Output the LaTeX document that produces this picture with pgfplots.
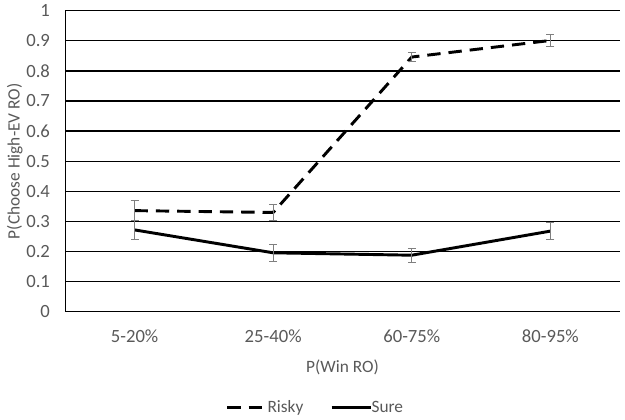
\documentclass[border=0pt]{standalone}
\usepackage{pgfplots}
\pgfplotsset{compat=1.18}
\usepackage{fontspec}
\setmainfont{Carlito}
\definecolor{txt}{HTML}{595959}
\definecolor{ebar}{HTML}{7F7F7F}
\begin{document}
\begin{tikzpicture}
\useasboundingbox (-49pt,-81pt) rectangle (420pt,234pt);
\begin{axis}[
  scale only axis,
  width=416pt, height=226pt,
  xmin=-0.5, xmax=3.5, ymin=0, ymax=1,
  xtick={0,1,2,3},
  xticklabels={5-20\%,25-40\%,60-75\%,80-95\%},
  ytick={0,0.1,...,1},
  yticklabels={0,0.1,0.2,0.3,0.4,0.5,0.6,0.7,0.8,0.9,1},
  major tick length=0pt,
  axis x line=bottom, axis y line=left,
  axis line style={-, black, line width=1pt},
  ymajorgrids, grid style={black, line width=1pt},
  tick label style={font=\fontsize{14}{16}\selectfont, text=txt},
  yticklabel style={xshift=-8pt},
  xticklabel style={yshift=-10pt},
  xlabel={P(Win RO)}, ylabel={P(Choose High-EV RO)},
  label style={font=\fontsize{13}{15}\selectfont, text=txt},
  xlabel style={yshift=-6pt},
  ylabel style={yshift=-4pt},
  legend style={at={(0.452,-0.319)}, anchor=center, draw=none, fill=none,
    legend columns=2, font=\fontsize{13}{15}\selectfont, text=txt,
    /tikz/every even column/.append style={column sep=18pt},
    /tikz/every odd column/.append style={column sep=-3pt}},
  legend image code/.code={\draw[#1] (0pt,0pt) -- (30pt,0pt);},
  clip=false,
]
\addplot[black, line width=2.2pt, dash pattern=on 10pt off 6pt,
  error bars/.cd, y dir=both, y explicit,
  error bar style={ebar, line width=0.6pt, solid},
  error mark options={ebar, mark size=3pt, line width=0.6pt, rotate=90}]
  coordinates {(0,0.336) +- (0,0.033) (1,0.330) +- (0,0.028) (2,0.846) +- (0,0.016) (3,0.901) +- (0,0.019)};
\addlegendentry{Risky}
\addplot[black, line width=2.2pt,
  error bars/.cd, y dir=both, y explicit,
  error bar style={ebar, line width=0.6pt, solid},
  error mark options={ebar, mark size=3pt, line width=0.6pt, rotate=90}]
  coordinates {(0,0.272) +- (0,0.031) (1,0.196) +- (0,0.028) (2,0.188) +- (0,0.024) (3,0.268) +- (0,0.029)};
\addlegendentry{Sure}
\end{axis}
\end{tikzpicture}
\end{document}
